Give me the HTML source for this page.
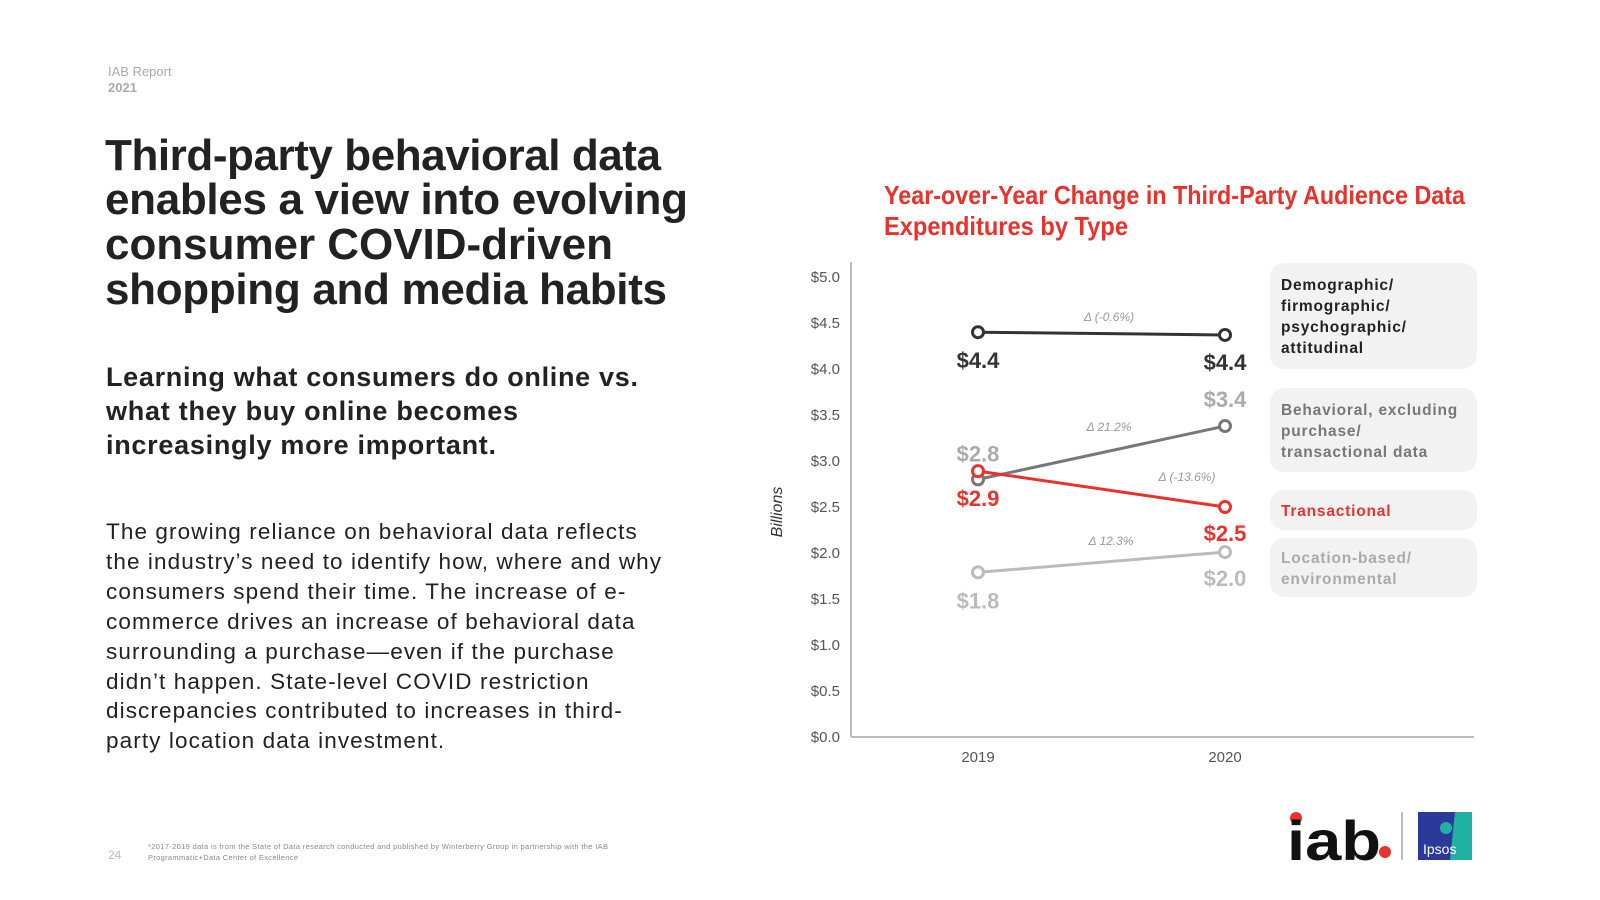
<!DOCTYPE html>
<html><head><meta charset="utf-8"><style>
html,body{margin:0;padding:0;background:#fff;}
svg{display:block;font-family:"Liberation Sans",Arial,sans-serif;}
</style></head><body>
<svg id="page" width="1600" height="900" viewBox="0 0 1600 900" xmlns="http://www.w3.org/2000/svg">
<g>
<text x="108" y="76" font-size="13" fill="#aaa">IAB Report</text>
<text x="108" y="92" font-size="13" font-weight="bold" fill="#aaa">2021</text>
</g>
<g font-size="44" font-weight="bold" fill="#222">
<text x="105" y="170" textLength="556">Third-party behavioral data</text>
<text x="105" y="214" textLength="583">enables a view into evolving</text>
<text x="105" y="259" textLength="508">consumer COVID-driven</text>
<text x="105" y="304" textLength="562">shopping and media habits</text>
</g>
<g font-size="27" font-weight="bold" fill="#222">
<text x="106" y="386" textLength="532">Learning what consumers do online vs.</text>
<text x="106" y="420" textLength="412">what they buy online becomes</text>
<text x="106" y="454" textLength="390">increasingly more important.</text>
</g>
<g font-size="22.5" fill="#222" letter-spacing="1.1">
<text x="106" y="539">The growing reliance on behavioral data reflects</text>
<text x="106" y="569">the industry’s need to identify how, where and why</text>
<text x="106" y="599">consumers spend their time. The increase of e-</text>
<text x="106" y="629">commerce drives an increase of behavioral data</text>
<text x="106" y="659">surrounding a purchase—even if the purchase</text>
<text x="106" y="689">didn’t happen. State-level COVID restriction</text>
<text x="106" y="718">discrepancies contributed to increases in third-</text>
<text x="106" y="748">party location data investment.</text>
</g>
<g>
<text x="108" y="859" font-size="12" fill="#bbb">24</text>
<text x="148" y="849" font-size="7.5" fill="#888" textLength="460">*2017-2019 data is from the State of Data research conducted and published by Winterberry Group in partnership with the IAB</text>
<text x="148" y="860" font-size="7.5" fill="#888" textLength="150">Programmatic+Data Center of Excellence</text>
</g>
<g>
<circle cx="1296" cy="818" r="6" fill="#e8322b"/>
<text x="1287" y="860" font-size="56" font-weight="bold" fill="#111" textLength="94" lengthAdjust="spacingAndGlyphs">iab</text>
<circle cx="1385" cy="852" r="6" fill="#e8322b"/>
<rect x="1401" y="812" width="2" height="48" fill="#bbb"/>
</g>
<g>
<rect x="1418" y="812" width="54" height="48" fill="#2b3a9a"/>
<path d="M1455 812 L1472 812 L1472 860 L1450 860 Z" fill="#1fb1a4"/>
<circle cx="1446" cy="828" r="6" fill="#1fb1a4"/>
<text x="1423" y="854" font-size="14" fill="#fff">Ipsos</text>
</g>
<g id="chart"></g>
</svg>
<script>
const categories = ["2019", "2020"];
const seriesNames = ["Demographic/ firmographic/ psychographic/ attitudinal", "Behavioral, excluding purchase/ transactional data", "Transactional", "Location-based/ environmental"];
const demographicValues = [4.40, 4.37];
const behavioralValues = [2.80, 3.38];
const transactionalValues = [2.89, 2.50];
const locationValues = [1.79, 2.01];
const valueLabels2019 = ["$4.4", "$2.8", "$2.9", "$1.8"];
const valueLabels2020 = ["$4.4", "$3.4", "$2.5", "$2.0"];
const deltaLabels = ["Δ (-0.6%)", "Δ 21.2%", "Δ (-13.6%)", "Δ 12.3%"];
const yTicks = [0, 0.5, 1, 1.5, 2, 2.5, 3, 3.5, 4, 4.5, 5];
const yTickLabels = ["$0.0","$0.5","$1.0","$1.5","$2.0","$2.5","$3.0","$3.5","$4.0","$4.5","$5.0"];

const NS = "http://www.w3.org/2000/svg";
const g = document.getElementById("chart");
const y = v => 737 - v * 92;
const x = i => 978 + i * 247;
function mk(tag, attrs, text) {
  const e = document.createElementNS(NS, tag);
  for (const k in attrs) e.setAttribute(k, attrs[k]);
  if (text !== undefined) e.textContent = text;
  g.appendChild(e);
  return e;
}
let e;
e = mk("text", {x: 884, y: 204, "font-size": 26, "font-weight": "bold", fill: "#e8322b", textLength: 581, lengthAdjust: "spacingAndGlyphs"}, "Year-over-Year Change in Third-Party Audience Data");


e = mk("text", {x: 884, y: 235, "font-size": 26, "font-weight": "bold", fill: "#e8322b", textLength: 244, lengthAdjust: "spacingAndGlyphs"}, "Expenditures by Type");


e = mk("line", {x1: 851, y1: 262, x2: 851, y2: 737, stroke: "#bbb", "stroke-width": 2});


e = mk("line", {x1: 851, y1: 737, x2: 1474, y2: 737, stroke: "#bbb", "stroke-width": 2});


yTicks.forEach((t, i) => {
  const l = mk("text", {x: 840, y: y(t) + 5, "font-size": 15, fill: "#555", "text-anchor": "end"}, yTickLabels[i]);
  
  
});
categories.forEach((c, i) => {
  const l = mk("text", {x: x(i), y: 762, "font-size": 15, fill: "#555", "text-anchor": "middle"}, c);
  
  
});
e = mk("text", {x: 0, y: 0, "font-size": 16, "font-style": "italic", fill: "#333", "text-anchor": "middle", transform: "translate(782,512) rotate(-90)"}, "Billions");



const series = [demographicValues, behavioralValues, transactionalValues, locationValues];
const colors = ["#333333", "#777777", "#e8322b", "#bbbbbb"];
const labelColors = ["#333333", "#aaaaaa", "#e8322b", "#bbbbbb"];
const off2019 = [28, -26, 27, 28];
const off2020 = [27, -27, 26, 26];
const deltaPos = [[1109, 317], [1109, 427], [1187, 477], [1111, 541]];
const order = [3, 1, 2, 0];
order.forEach(s => {
  const vals = series[s];
  const ln = mk("line", {x1: x(0), y1: y(vals[0]), x2: x(1), y2: y(vals[1]), stroke: colors[s], "stroke-width": 3});
  
  
  vals.forEach((v, i) => {
    const p = mk("circle", {cx: x(i), cy: y(v), r: 5.5, fill: "#fff", stroke: colors[s], "stroke-width": 3});
    
    
  });
  const l1 = mk("text", {x: x(0), y: y(vals[0]) + off2019[s] + 8, "font-size": 22, "font-weight": "bold", fill: labelColors[s], "text-anchor": "middle"}, valueLabels2019[s]);
  
  
  const l2 = mk("text", {x: x(1), y: y(vals[1]) + off2020[s] + 8, "font-size": 22, "font-weight": "bold", fill: labelColors[s], "text-anchor": "middle"}, valueLabels2020[s]);
  
  
  const d = mk("text", {x: deltaPos[s][0], y: deltaPos[s][1] + 4, "font-size": 12, "font-style": "italic", fill: "#999", "text-anchor": "middle"}, deltaLabels[s]);
  
  
});

const boxes = [[263, 106], [388, 84], [490, 40], [538, 59]];
const legendLines = [["Demographic/", "firmographic/", "psychographic/", "attitudinal"], ["Behavioral, excluding", "purchase/", "transactional data"], ["Transactional"], ["Location-based/", "environmental"]];
const legendTextColors = ["#222222", "#777777", "#e8322b", "#aaaaaa"];
const legendFirstY = [284, 409, 510, 557];
boxes.forEach((b, i) => {
  const r = mk("rect", {x: 1270, y: b[0], width: 207, height: b[1], rx: 14, fill: "#f2f2f2"});
  
  
  legendLines[i].forEach((t, j) => {
    const tx = mk("text", {x: 1281, y: legendFirstY[i] + j * 21 + 6, "font-size": 15.5, "font-weight": "bold", "letter-spacing": "0.8", fill: legendTextColors[i]}, t);
    
    
  });
});
</script>
</body></html>
